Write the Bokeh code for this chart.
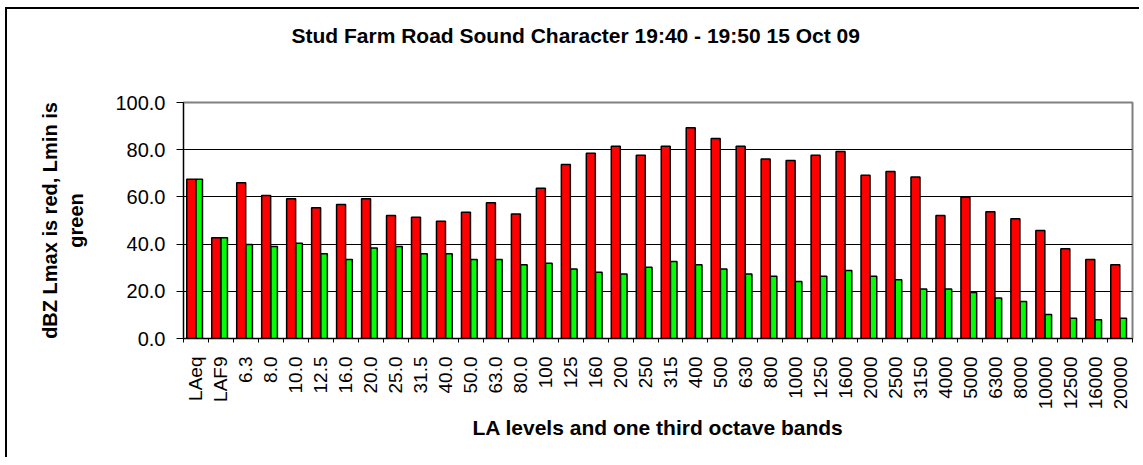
import math
from bokeh.plotting import figure
from bokeh.models import Range1d, FixedTicker, Title, NumeralTickFormatter, ColumnDataSource
from bokeh.transform import dodge
from bokeh.embed import file_html
from bokeh.resources import INLINE

categories = ["LAeq", "LAF9", "6.3", "8.0", "10.0", "12.5", "16.0", "20.0", "25.0", "31.5",
              "40.0", "50.0", "63.0", "80.0", "100", "125", "160", "200", "250", "315",
              "400", "500", "630", "800", "1000", "1250", "1600", "2000", "2500", "3150",
              "4000", "5000", "6300", "8000", "10000", "12500", "16000", "20000"]
lmax = [67.5, 42.7, 66.0, 60.6, 59.2, 55.4, 56.8, 59.2, 52.1, 51.4,
        49.7, 53.5, 57.5, 52.8, 63.7, 73.7, 78.5, 81.5, 77.7, 81.5,
        89.3, 84.7, 81.5, 76.1, 75.4, 77.7, 79.2, 69.2, 70.8, 68.4,
        52.1, 59.9, 53.7, 50.7, 45.8, 38.0, 33.5, 31.2]
lmin = [67.5, 42.7, 39.8, 39.0, 40.4, 35.9, 33.5, 38.3, 39.0, 35.9,
        35.9, 33.5, 33.5, 31.2, 31.9, 29.5, 28.1, 27.3, 30.2, 32.6,
        31.2, 29.5, 27.3, 26.4, 24.2, 26.4, 28.8, 26.4, 24.9, 21.0,
        21.0, 19.5, 17.2, 15.7, 10.2, 8.6, 7.9, 8.6]
y_ticks = [0, 20, 40, 60, 80, 100]

title_text = "Stud Farm Road Sound Character 19:40 - 19:50 15 Oct 09"
x_title = "LA levels and one third octave bands"
y_title = "dBZ Lmax is red, Lmin is\ngreen"

FONT = "Liberation Sans"
n = len(categories)
idx = list(range(n))
src = ColumnDataSource(dict(x=idx, lmax=lmax, lmin=lmin))

p = figure(width=1134, height=450, x_range=Range1d(-0.5, n - 0.5), y_range=Range1d(0, 100),
           output_backend="svg", toolbar_location=None,
           min_border_left=176, min_border_right=9, min_border_top=93, min_border_bottom=121)
p.styles = {"border-left": "2px solid black", "border-top": "2px solid black",
            "margin-left": "5px", "margin-top": "7px"}

p.vbar(x=dodge("x", -0.19), top="lmax", width=0.36, bottom=0, source=src,
       fill_color="#FF0000", line_color="black", line_width=1.5)
p.vbar(x=dodge("x", 0.13), top="lmin", width=0.26, bottom=0, source=src,
       fill_color="#00FF00", line_color="black", line_width=1.5)

# x axis
p.xaxis.ticker = FixedTicker(ticks=idx, minor_ticks=[i - 0.5 for i in range(n + 1)])
p.xaxis.major_label_overrides = {i: c for i, c in zip(idx, categories)}
p.xaxis.major_label_orientation = math.pi / 2
p.xaxis.major_tick_out = 0
p.xaxis.major_tick_in = 0
p.xaxis.minor_tick_out = 4
p.xaxis.minor_tick_in = 0
p.xaxis.minor_tick_line_color = "black"
p.xaxis.major_label_standoff = 14
p.xaxis.major_label_text_font = FONT
p.xaxis.major_label_text_font_size = "19px"
p.xaxis.major_label_text_color = "black"
p.xaxis.axis_label = x_title
p.xaxis.axis_label_text_font = FONT
p.xaxis.axis_label_text_font_size = "21px"
p.xaxis.axis_label_text_font_style = "bold"
p.xaxis.axis_label_text_color = "black"
p.xaxis.axis_label_standoff = 4
p.xaxis.axis_line_color = "black"

# y axis
p.yaxis.ticker = FixedTicker(ticks=y_ticks)
p.yaxis.formatter = NumeralTickFormatter(format="0.0")
p.yaxis.major_tick_out = 7
p.yaxis.major_tick_in = 0
p.yaxis.minor_tick_line_color = None
p.yaxis.major_label_standoff = 11
p.yaxis.major_label_text_font = FONT
p.yaxis.major_label_text_font_size = "20px"
p.yaxis.major_label_text_color = "black"
p.yaxis.axis_label = y_title
p.yaxis.axis_label_text_font = FONT
p.yaxis.axis_label_text_font_size = "20px"
p.yaxis.axis_label_text_font_style = "bold"
p.yaxis.axis_label_text_color = "black"
p.yaxis.axis_label_standoff = 25
p.yaxis.axis_line_color = "black"

p.xgrid.visible = False
p.ygrid.ticker = FixedTicker(ticks=y_ticks)
p.ygrid.grid_line_color = "black"
p.ygrid.grid_line_width = 1

p.outline_line_color = "#808080"
p.outline_line_width = 2

# spacer panel between the frame and the title
p.add_layout(Title(text=" ", text_font=FONT, text_font_size="35px",
                   text_color="white"), "above")
p.add_layout(Title(text=title_text, align="left", offset=108,
                   text_font=FONT, text_font_size="21px", text_font_style="bold",
                   text_color="black"), "above")

open("out.html", "w").write(file_html(p, INLINE))
